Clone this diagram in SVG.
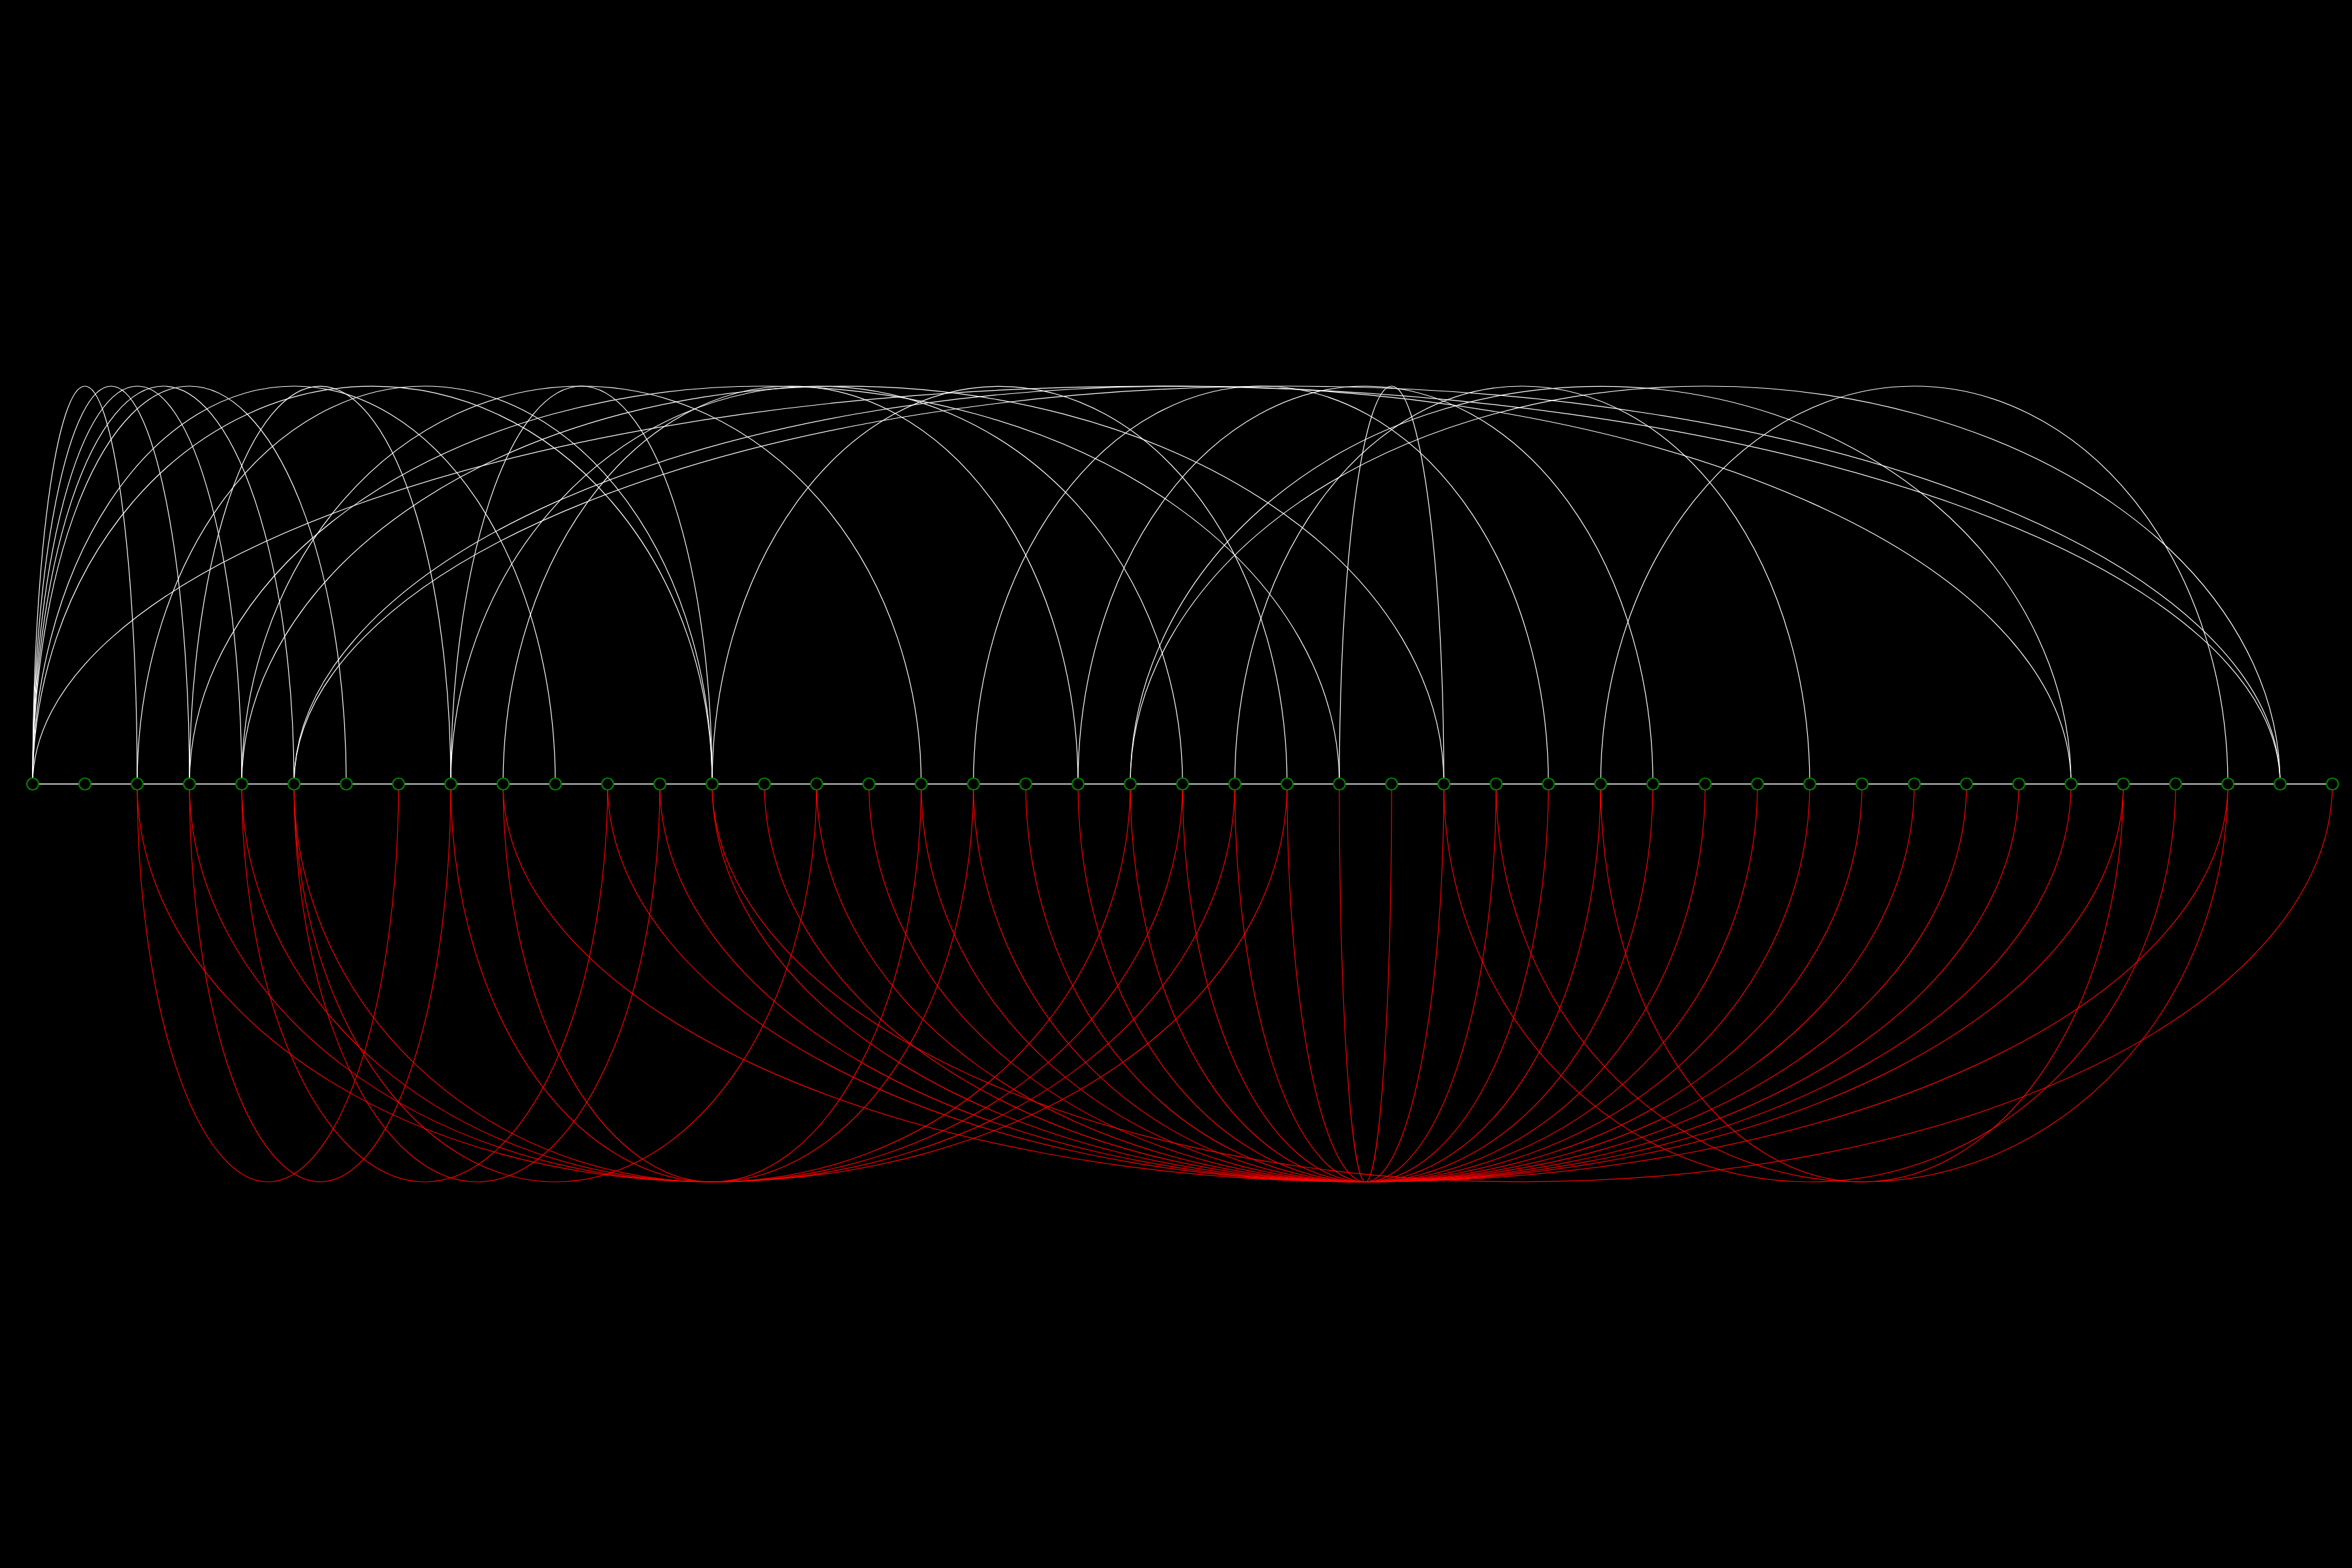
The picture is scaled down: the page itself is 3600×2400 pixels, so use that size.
<svg xmlns="http://www.w3.org/2000/svg" width="3600" height="2400" viewBox="0 0 3600 2400">
<style>
.w{fill:none;stroke:#fff;stroke-width:1.2}
.r{fill:none;stroke:#f00;stroke-width:1.2}
.n{fill:#000;stroke:#008000;stroke-width:2.2}
.b{stroke:#fff;stroke-width:1.5}
</style>
<rect width="3600" height="2400" fill="#000"/>
<g id="connectors">
<line class="b" x1="50" y1="1200" x2="3570" y2="1200"/>
<path class="w" d="M50,1200A80,609 0 0 1 210,1200"/>
<path class="w" d="M50,1200A120,609 0 0 1 290,1200"/>
<path class="w" d="M50,1200A160,609 0 0 1 370,1200"/>
<path class="w" d="M50,1200A200,609 0 0 1 450,1200"/>
<path class="w" d="M50,1200A240,609 0 0 1 530,1200"/>
<path class="w" d="M50,1200A400,609 0 0 1 850,1200"/>
<path class="w" d="M50,1200A520,609 0 0 1 1090,1200"/>
<path class="w" d="M50,1200A1720,609 0 0 1 3490,1200"/>
<path class="w" d="M210,1200A440,609 0 0 1 1090,1200"/>
<path class="w" d="M290,1200A200,609 0 0 1 690,1200"/>
<path class="w" d="M290,1200A880,609 0 0 1 2050,1200"/>
<path class="w" d="M370,1200A520,609 0 0 1 1410,1200"/>
<path class="w" d="M370,1200A920,609 0 0 1 2210,1200"/>
<path class="w" d="M450,1200A1360,609 0 0 1 3170,1200"/>
<path class="w" d="M450,1200A1520,609 0 0 1 3490,1200"/>
<path class="w" d="M690,1200A200,609 0 0 1 1090,1200"/>
<path class="w" d="M690,1200A560,609 0 0 1 1810,1200"/>
<path class="w" d="M770,1200A440,609 0 0 1 1650,1200"/>
<path class="w" d="M1090,1200A440,609 0 0 1 1970,1200"/>
<path class="w" d="M1490,1200A440,609 0 0 1 2370,1200"/>
<path class="w" d="M1650,1200A440,609 0 0 1 2530,1200"/>
<path class="w" d="M1730,1200A720,609 0 0 1 3170,1200"/>
<path class="w" d="M1730,1200A880,609 0 0 1 3490,1200"/>
<path class="w" d="M1890,1200A440,609 0 0 1 2770,1200"/>
<path class="w" d="M2050,1200A80,609 0 0 1 2210,1200"/>
<path class="w" d="M2450,1200A480,609 0 0 1 3410,1200"/>
<path class="r" d="M210,1200A200,609 0 0 0 610,1200"/>
<path class="r" d="M290,1200A200,609 0 0 0 690,1200"/>
<path class="r" d="M370,1200A280,609 0 0 0 930,1200"/>
<path class="r" d="M450,1200A280,609 0 0 0 1010,1200"/>
<path class="r" d="M450,1200A400,609 0 0 0 1250,1200"/>
<path class="r" d="M210,1200A880,609 0 0 0 1970,1200"/>
<path class="r" d="M290,1200A800,609 0 0 0 1890,1200"/>
<path class="r" d="M370,1200A720,609 0 0 0 1810,1200"/>
<path class="r" d="M450,1200A640,609 0 0 0 1730,1200"/>
<path class="r" d="M690,1200A400,609 0 0 0 1490,1200"/>
<path class="r" d="M770,1200A320,609 0 0 0 1410,1200"/>
<path class="r" d="M1090,1200A1240,609 0 0 0 3570,1200"/>
<path class="r" d="M770,1200A1320,609 0 0 0 3410,1200"/>
<path class="r" d="M930,1200A1160,609 0 0 0 3250,1200"/>
<path class="r" d="M1010,1200A1080,609 0 0 0 3170,1200"/>
<path class="r" d="M1090,1200A1000,609 0 0 0 3090,1200"/>
<path class="r" d="M1170,1200A920,609 0 0 0 3010,1200"/>
<path class="r" d="M1250,1200A840,609 0 0 0 2930,1200"/>
<path class="r" d="M1330,1200A760,609 0 0 0 2850,1200"/>
<path class="r" d="M1410,1200A680,609 0 0 0 2770,1200"/>
<path class="r" d="M1490,1200A600,609 0 0 0 2690,1200"/>
<path class="r" d="M1570,1200A520,609 0 0 0 2610,1200"/>
<path class="r" d="M1650,1200A440,609 0 0 0 2530,1200"/>
<path class="r" d="M1730,1200A360,609 0 0 0 2450,1200"/>
<path class="r" d="M1810,1200A280,609 0 0 0 2370,1200"/>
<path class="r" d="M1890,1200A200,609 0 0 0 2290,1200"/>
<path class="r" d="M1970,1200A120,609 0 0 0 2210,1200"/>
<path class="r" d="M2050,1200A40,609 0 0 0 2130,1200"/>
<path class="r" d="M2450,1200A400,609 0 0 0 3250,1200"/>
<path class="r" d="M2210,1200A560,609 0 0 0 3330,1200"/>
<path class="r" d="M2290,1200A560,609 0 0 0 3410,1200"/>
</g>
<g id="nodes">
<g id="n0"><circle class="n" cx="50" cy="1200" r="9"/></g>
<g id="n1"><circle class="n" cx="130" cy="1200" r="9"/></g>
<g id="n2"><circle class="n" cx="210" cy="1200" r="9"/></g>
<g id="n3"><circle class="n" cx="290" cy="1200" r="9"/></g>
<g id="n4"><circle class="n" cx="370" cy="1200" r="9"/></g>
<g id="n5"><circle class="n" cx="450" cy="1200" r="9"/></g>
<g id="n6"><circle class="n" cx="530" cy="1200" r="9"/></g>
<g id="n7"><circle class="n" cx="610" cy="1200" r="9"/></g>
<g id="n8"><circle class="n" cx="690" cy="1200" r="9"/></g>
<g id="n9"><circle class="n" cx="770" cy="1200" r="9"/></g>
<g id="n10"><circle class="n" cx="850" cy="1200" r="9"/></g>
<g id="n11"><circle class="n" cx="930" cy="1200" r="9"/></g>
<g id="n12"><circle class="n" cx="1010" cy="1200" r="9"/></g>
<g id="n13"><circle class="n" cx="1090" cy="1200" r="9"/></g>
<g id="n14"><circle class="n" cx="1170" cy="1200" r="9"/></g>
<g id="n15"><circle class="n" cx="1250" cy="1200" r="9"/></g>
<g id="n16"><circle class="n" cx="1330" cy="1200" r="9"/></g>
<g id="n17"><circle class="n" cx="1410" cy="1200" r="9"/></g>
<g id="n18"><circle class="n" cx="1490" cy="1200" r="9"/></g>
<g id="n19"><circle class="n" cx="1570" cy="1200" r="9"/></g>
<g id="n20"><circle class="n" cx="1650" cy="1200" r="9"/></g>
<g id="n21"><circle class="n" cx="1730" cy="1200" r="9"/></g>
<g id="n22"><circle class="n" cx="1810" cy="1200" r="9"/></g>
<g id="n23"><circle class="n" cx="1890" cy="1200" r="9"/></g>
<g id="n24"><circle class="n" cx="1970" cy="1200" r="9"/></g>
<g id="n25"><circle class="n" cx="2050" cy="1200" r="9"/></g>
<g id="n26"><circle class="n" cx="2130" cy="1200" r="9"/></g>
<g id="n27"><circle class="n" cx="2210" cy="1200" r="9"/></g>
<g id="n28"><circle class="n" cx="2290" cy="1200" r="9"/></g>
<g id="n29"><circle class="n" cx="2370" cy="1200" r="9"/></g>
<g id="n30"><circle class="n" cx="2450" cy="1200" r="9"/></g>
<g id="n31"><circle class="n" cx="2530" cy="1200" r="9"/></g>
<g id="n32"><circle class="n" cx="2610" cy="1200" r="9"/></g>
<g id="n33"><circle class="n" cx="2690" cy="1200" r="9"/></g>
<g id="n34"><circle class="n" cx="2770" cy="1200" r="9"/></g>
<g id="n35"><circle class="n" cx="2850" cy="1200" r="9"/></g>
<g id="n36"><circle class="n" cx="2930" cy="1200" r="9"/></g>
<g id="n37"><circle class="n" cx="3010" cy="1200" r="9"/></g>
<g id="n38"><circle class="n" cx="3090" cy="1200" r="9"/></g>
<g id="n39"><circle class="n" cx="3170" cy="1200" r="9"/></g>
<g id="n40"><circle class="n" cx="3250" cy="1200" r="9"/></g>
<g id="n41"><circle class="n" cx="3330" cy="1200" r="9"/></g>
<g id="n42"><circle class="n" cx="3410" cy="1200" r="9"/></g>
<g id="n43"><circle class="n" cx="3490" cy="1200" r="9"/></g>
<g id="n44"><circle class="n" cx="3570" cy="1200" r="9"/></g>
</g>
</svg>
